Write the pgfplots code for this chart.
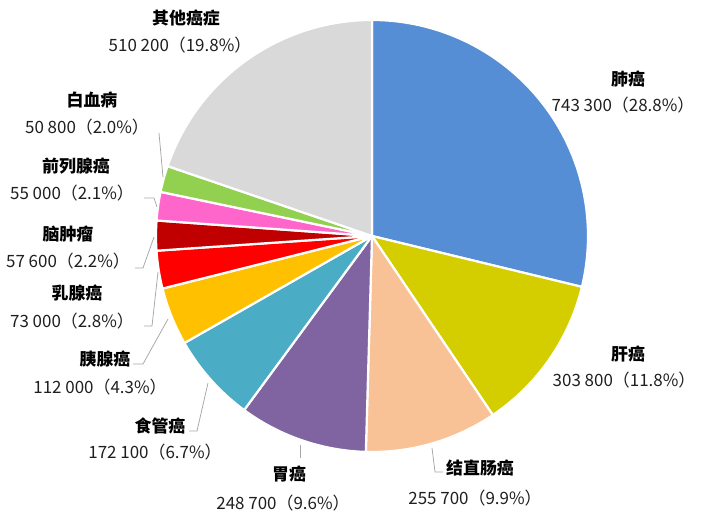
\documentclass[border=0pt]{standalone}
\usepackage{fontspec}
\setmainfont{Noto Sans CJK SC}
\usepackage{pgfplots}
\pgfplotsset{compat=1.18}

\definecolor{cLung}{RGB}{85,142,213}
\definecolor{cLiver}{RGB}{212,206,0}
\definecolor{cColo}{RGB}{249,194,150}
\definecolor{cStom}{RGB}{128,100,162}
\definecolor{cEso}{RGB}{75,172,198}
\definecolor{cPanc}{RGB}{255,192,0}
\definecolor{cBreast}{RGB}{255,0,0}
\definecolor{cBrain}{RGB}{192,0,0}
\definecolor{cPros}{RGB}{255,102,204}
\definecolor{cLeuk}{RGB}{146,208,80}
\definecolor{cOther}{RGB}{217,217,217}
\definecolor{leader}{RGB}{166,166,166}

\begin{document}
\begin{tikzpicture}[
  nm/.style={font=\fontsize{17}{17}\selectfont\bfseries, text=black, anchor=base, inner sep=0pt},
  vl/.style={font=\fontsize{17}{17}\selectfont, text=black!88, anchor=base, inner sep=0pt},
  ld/.style={draw=leader, line width=0.75bp}]
\begin{axis}[
  scale only axis, width=704bp, height=516bp,
  xmin=0, xmax=704, ymin=0, ymax=516,
  hide axis, clip=false]
\path (axis cs:0,0) rectangle (axis cs:704,516);

% cases (thousands), clockwise from 12 o'clock; total 2582.2
\xdef\cum{0}
\foreach \v/\c in {743.3/cLung, 303.8/cLiver, 255.7/cColo, 248.7/cStom,
    172.1/cEso, 112.0/cPanc, 73.0/cBreast, 57.6/cBrain, 55.0/cPros,
    50.8/cLeuk, 510.2/cOther} {
  \pgfmathsetmacro\a{90-\cum/2582.2*360}
  \pgfmathsetmacro\b{\a-\v/2582.2*360}
  \edef\temp{\noexpand\filldraw[fill=\c, draw=white, line width=2.2bp, line join=round]
    (axis cs:372,280) -- ++(\a:216bp) arc[start angle=\a, end angle=\b, radius=216bp] -- cycle;}
  \temp
  \pgfmathsetmacro\n{\cum+\v}\xdef\cum{\n}
}

% leader lines
\draw[ld] (axis cs:159,383) -- (axis cs:163,339);
\draw[ld] (axis cs:144,318) -- (axis cs:154,318) -- (axis cs:157,309);
\draw[ld] (axis cs:135,248) -- (axis cs:143,248) -- (axis cs:154,279);
\draw[ld] (axis cs:144,190) -- (axis cs:152,190) -- (axis cs:158,244);
\draw[ld] (axis cs:133,152) -- (axis cs:143,152) -- (axis cs:168,197);
\draw[ld] (axis cs:189,85) -- (axis cs:197,85) -- (axis cs:208,133);
\draw[ld] (axis cs:300,71) -- (axis cs:300,58);
\draw[ld] (axis cs:432,68) -- (axis cs:435,44) -- (axis cs:443,44);

% labels
\node[nm] at (axis cs:628,430) {肺癌};
\node[vl] at (axis cs:623,404) {743 300（28.8\%）};
\node[nm] at (axis cs:628,155) {肝癌};
\node[vl] at (axis cs:624,129) {303 800（11.8\%）};
\node[nm] at (axis cs:480,41) {结直肠癌};
\node[vl] at (axis cs:475,12) {255 700（9.9\%）};
\node[nm] at (axis cs:289,35) {胃癌};
\node[vl] at (axis cs:283,7) {248 700（9.6\%）};
\node[nm] at (axis cs:160,83) {食管癌};
\node[vl] at (axis cs:155,57) {172 100（6.7\%）};
\node[nm] at (axis cs:105,150) {胰腺癌};
\node[vl] at (axis cs:100,122) {112 000（4.3\%）};
\node[nm] at (axis cs:77,216) {乳腺癌};
\node[vl] at (axis cs:72,188) {73 000（2.8\%）};
\node[nm] at (axis cs:68,275) {脑肿瘤};
\node[vl] at (axis cs:68,248) {57 600（2.2\%）};
\node[nm] at (axis cs:76,343) {前列腺癌};
\node[vl] at (axis cs:72,316) {55 000（2.1\%）};
\node[nm] at (axis cs:92,409) {白血病};
\node[vl] at (axis cs:87,382) {50 800（2.0\%）};
\node[nm] at (axis cs:186,491) {其他癌症};
\node[vl] at (axis cs:180,464) {510 200（19.8\%）};
\end{axis}
\end{tikzpicture}
\end{document}
